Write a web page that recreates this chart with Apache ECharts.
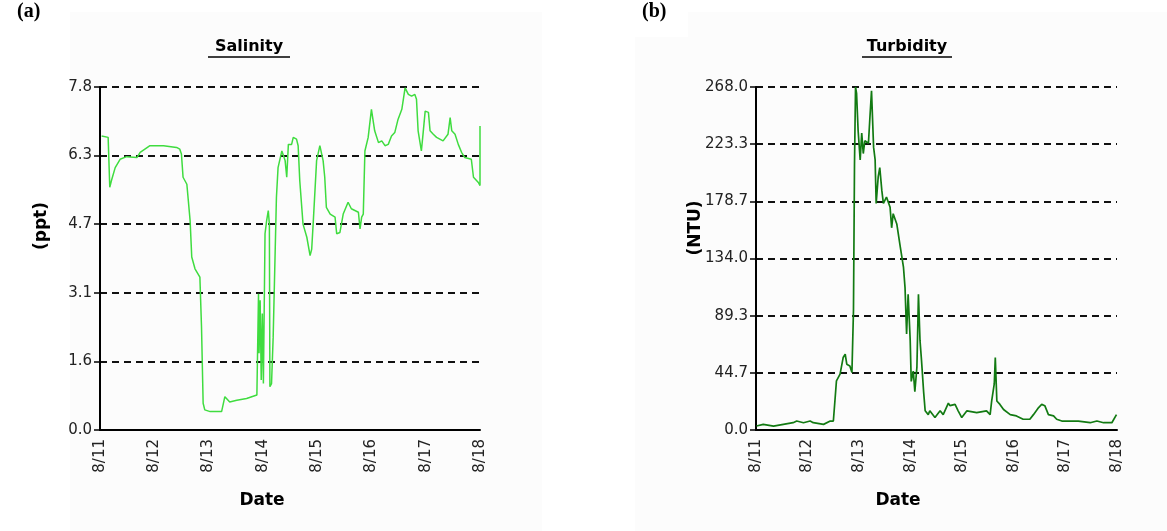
<!DOCTYPE html>
<html>
<head>
<meta charset="utf-8">
<script src="https://cdn.jsdelivr.net/npm/echarts@6/dist/echarts.min.js"></script>
<style>html,body{margin:0;padding:0;background:#fff}#c{width:1167px;height:531px}</style>
</head>
<body>
<div id="c"></div>
<script>
// Day offsets from 8/11 00:00 (days)
const dateLabels = ['8/11','8/12','8/13','8/14','8/15','8/16','8/17','8/18'];
const salinityTicks = ['0.0','1.6','3.1','4.7','6.3','7.8'];
const turbidityTicks = ['0.0','44.7','89.3','134.0','178.7','223.3','268.0'];

const salDays = [0.03,0.15,0.18,0.21,0.28,0.37,0.49,0.68,0.74,0.92,1.17,1.41,1.47,1.50,1.53,1.60,1.66,1.69,1.75,1.84,1.87,1.90,1.93,2.03,2.24,2.30,2.39,2.52,2.70,2.89,2.92,2.93,2.95,2.97,2.99,3.01,3.04,3.07,3.10,3.12,3.13,3.16,3.19,3.25,3.28,3.35,3.41,3.44,3.47,3.53,3.56,3.62,3.65,3.68,3.74,3.81,3.87,3.90,3.93,3.99,4.05,4.11,4.14,4.17,4.24,4.33,4.36,4.42,4.48,4.57,4.63,4.76,4.79,4.82,4.85,4.88,4.94,5.00,5.06,5.13,5.19,5.25,5.31,5.37,5.43,5.49,5.56,5.62,5.68,5.74,5.80,5.83,5.86,5.92,5.95,5.99,6.05,6.08,6.14,6.20,6.32,6.41,6.45,6.48,6.54,6.60,6.66,6.72,6.84,6.88,6.97,7.00,7.00];
const salValues = [6.71,6.68,5.54,5.69,5.99,6.18,6.24,6.22,6.34,6.49,6.49,6.45,6.41,6.30,5.77,5.61,4.78,3.95,3.68,3.49,2.35,0.61,0.46,0.42,0.42,0.76,0.64,0.68,0.72,0.80,3.11,1.75,2.96,1.14,2.66,1.06,4.48,4.78,5.01,4.70,0.99,1.06,2.12,5.31,5.99,6.37,6.15,5.77,6.52,6.52,6.68,6.64,6.49,5.69,4.70,4.40,3.98,4.13,4.78,6.15,6.49,6.15,5.77,5.08,4.93,4.86,4.48,4.51,4.93,5.20,5.05,4.97,4.59,4.86,4.93,6.37,6.68,7.32,6.83,6.56,6.60,6.49,6.52,6.71,6.79,7.09,7.32,7.81,7.66,7.62,7.66,7.55,6.83,6.37,6.75,7.28,7.25,6.83,6.75,6.68,6.60,6.75,7.13,6.83,6.75,6.52,6.34,6.22,6.18,5.77,5.65,5.58,6.94];

const turDays = [0.01,0.14,0.34,0.53,0.72,0.79,0.92,1.05,1.11,1.31,1.44,1.50,1.53,1.56,1.63,1.69,1.73,1.76,1.82,1.86,1.89,1.91,1.93,1.95,1.98,2.02,2.05,2.08,2.11,2.18,2.21,2.24,2.28,2.31,2.33,2.37,2.40,2.44,2.47,2.53,2.60,2.63,2.66,2.73,2.79,2.86,2.89,2.92,2.95,2.99,3.01,3.05,3.08,3.12,3.15,3.18,3.21,3.25,3.28,3.34,3.37,3.47,3.57,3.63,3.73,3.76,3.86,3.92,3.99,4.09,4.28,4.47,4.54,4.57,4.62,4.64,4.67,4.73,4.80,4.93,5.05,5.18,5.31,5.38,5.48,5.54,5.60,5.67,5.77,5.83,5.93,6.09,6.25,6.48,6.61,6.74,6.90,6.99];
const turValues = [3.1,4.4,3.0,4.4,5.7,7.0,5.7,7.0,5.7,4.4,7.0,7.0,22.7,38.4,43.6,56.6,59.2,51.4,50.1,44.9,93.2,208,268,263,234,211,232,216,226,224,245,265,221,211,177,198,205,187,177,182,174,158,169,161,145,127,111,75,106,70,38,46,30,49,106,70,54,30,15,12,15,9.7,15,12,21,19,20,15,9.7,15,13.6,15,12,22.7,36,56.6,22.7,20,16,12,11,8.4,8.4,12,17.5,20,19,12,11,8.4,7,7,7,5.7,7,5.7,5.7,12];

const salMax = 1.566 * 5, salInt = 1.566;
const turMax = 268, turInt = 268 / 6;

const pairs = (xs, ys) => xs.map((x, i) => [x, ys[i]]);
const tickFont = {fontFamily: 'DejaVu Sans', fontSize: 15, color: '#222'};

function xAxisFor(gi) {
  return {
    type: 'value', gridIndex: gi, min: 0, max: 7, interval: 1,
    axisLine: {lineStyle: {color: '#000', width: 2}},
    axisTick: {show: false},
    splitLine: {show: false},
    axisLabel: Object.assign({rotate: 90, margin: 9, formatter: v => dateLabels[Math.round(v)]}, tickFont)
  };
}
function yAxisFor(gi, max, interval, labels) {
  return {
    type: 'value', gridIndex: gi, min: 0, max: max, interval: interval,
    axisLine: {show: true, lineStyle: {color: '#000', width: 2}},
    axisTick: {show: true, length: 6, lineStyle: {color: '#000', width: 1.5}},
    splitLine: {show: true, lineStyle: {color: '#111', width: 2, type: [7, 5]}},
    axisLabel: Object.assign({margin: 8, formatter: v => labels[Math.round(v / interval)]}, tickFont)
  };
}

const chart = echarts.init(document.getElementById('c'));
chart.setOption({
  animation: false,
  backgroundColor: '#fff',
  grid: [
    {left: 100, right: 687, top: 87, bottom: 101},
    {left: 756, right: 50, top: 87, bottom: 101}
  ],
  xAxis: [xAxisFor(0), xAxisFor(1)],
  yAxis: [yAxisFor(0, salMax, salInt, salinityTicks), yAxisFor(1, turMax, turInt, turbidityTicks)],
  series: [
    {type: 'line', xAxisIndex: 0, yAxisIndex: 0, data: pairs(salDays, salValues), showSymbol: false,
     lineStyle: {color: '#3fdc3f', width: 1.5}, z: 3},
    {type: 'line', xAxisIndex: 1, yAxisIndex: 1, data: pairs(turDays, turValues), showSymbol: false,
     lineStyle: {color: '#127a12', width: 1.7}, z: 3}
  ],
  graphic: [
    {type: 'rect', shape: {x: 70, y: 12, width: 472, height: 519}, style: {fill: '#fcfcfc'}, z: -10, silent: true},
    {type: 'rect', shape: {x: 688, y: 12, width: 479, height: 519}, style: {fill: '#fcfcfc'}, z: -10, silent: true},
    {type: 'rect', shape: {x: 635, y: 37, width: 60, height: 494}, style: {fill: '#fcfcfc'}, z: -10, silent: true},
    {type: 'text', left: 17, top: 2, style: {text: '(a)', font: 'bold 20px "Liberation Serif"', fill: '#000'}},
    {type: 'text', left: 642, top: 2, style: {text: '(b)', font: 'bold 20px "Liberation Serif"', fill: '#000'}},
    {type: 'text', x: 249, y: 47, style: {text: 'Salinity', font: 'bold 16px "DejaVu Sans"', fill: '#000', align: 'center', verticalAlign: 'middle'}},
    {type: 'line', shape: {x1: 208, y1: 57, x2: 290, y2: 57}, style: {stroke: '#000', lineWidth: 1.5}},
    {type: 'text', x: 907, y: 47, style: {text: 'Turbidity', font: 'bold 16px "DejaVu Sans"', fill: '#000', align: 'center', verticalAlign: 'middle'}},
    {type: 'line', shape: {x1: 862, y1: 57, x2: 952, y2: 57}, style: {stroke: '#000', lineWidth: 1.5}},
    {type: 'text', x: 262, y: 501, style: {text: 'Date', font: 'bold 17px "DejaVu Sans"', fill: '#000', align: 'center', verticalAlign: 'middle'}},
    {type: 'text', x: 898, y: 501, style: {text: 'Date', font: 'bold 17px "DejaVu Sans"', fill: '#000', align: 'center', verticalAlign: 'middle'}},
    {type: 'text', x: 42, y: 226, rotation: Math.PI / 2, style: {text: '(ppt)', font: 'bold 17px "DejaVu Sans"', fill: '#000', align: 'center', verticalAlign: 'middle'}},
    {type: 'text', x: 696, y: 228, rotation: Math.PI / 2, style: {text: '(NTU)', font: 'bold 17px "DejaVu Sans"', fill: '#000', align: 'center', verticalAlign: 'middle'}}
  ]
});
</script>
</body>
</html>
